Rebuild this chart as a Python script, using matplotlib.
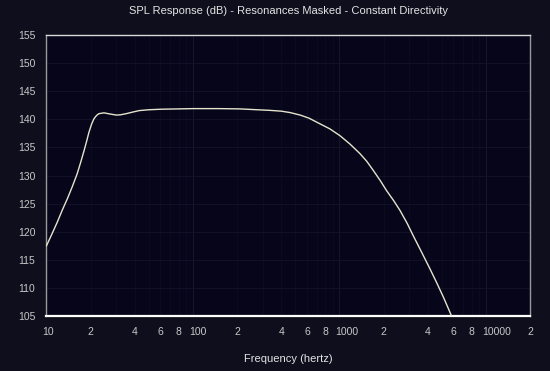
import numpy as np
import matplotlib
matplotlib.use("Agg")
import matplotlib.pyplot as plt
from matplotlib.transforms import ScaledTranslation

# SPL response (Hz vs dB)
freq = [10, 10.9, 11.85, 12.8, 13.9, 15.0, 16.2, 17.1, 18.0, 18.8, 19.5,
        20.3, 21.1, 22.0, 22.8, 24.7, 26.4, 28.5, 30.1, 32, 35, 39, 43, 50,
        62, 80, 100, 150, 210, 250, 330, 400, 460, 540, 620, 736, 860, 1007,
        1180, 1380, 1540, 1703, 1900, 2100, 2350, 2590, 2900, 3190, 3650,
        4150, 4600, 5120, 5830, 6500]
spl = [117.5, 119.6, 121.7, 123.8, 125.9, 128.0, 130.3, 132.3, 134.3, 136.1,
       137.7, 139.1, 140.1, 140.7, 141.0, 141.15, 141.0, 140.85, 140.75,
       140.8, 141.0, 141.3, 141.55, 141.7, 141.8, 141.85, 141.9, 141.9,
       141.85, 141.75, 141.6, 141.45, 141.2, 140.75, 140.2, 139.2, 138.3,
       137.1, 135.6, 133.9, 132.5, 130.9, 129.1, 127.3, 125.5, 123.8, 121.5,
       119.3, 116.3, 113.4, 111.0, 108.4, 105.0, 102.0]

x_ticks = [10, 20, 40, 60, 80, 100, 200, 400, 600, 800, 1000, 2000, 4000,
           6000, 8000, 10000, 20000]
x_labels = ["10", "2", "4", "6", "8", "100", "2", "4", "6", "8", "1000", "2",
            "4", "6", "8", "10000", "2"]
y_ticks = list(range(105, 156, 5))

plt.rcParams['font.family'] = ['Liberation Sans', 'DejaVu Sans']

fig = plt.figure(figsize=(5.5, 3.71), dpi=100, facecolor='#0e0e1d')
ax = fig.add_axes([0.0845, 0.1482, 0.8791, 0.7575])
ax.set_facecolor('#06051a')

ax.set_xscale('log')
ax.set_xlim(10, 20000)
ax.set_ylim(105, 155)

# faint grid
for f in [100, 1000, 10000]:
    ax.axvline(f, color='#15152b', lw=0.8, zorder=0)
for d in [10, 100, 1000, 10000]:
    for m in range(2, 10):
        if d * m < 20000:
            ax.axvline(d * m, color='#0d0c22', lw=0.6, zorder=0)
for yv in y_ticks[1:-1]:
    ax.axhline(yv, color='#111128', lw=0.7, zorder=0)

ax.plot(freq, spl, color='#e6e4cc', lw=1.0, zorder=3)

ax.set_xticks(x_ticks)
ax.set_xticklabels(x_labels)
ax.xaxis.set_minor_locator(matplotlib.ticker.NullLocator())
ax.set_yticks(y_ticks)
ax.tick_params(axis='both', length=0, colors='#c8c8c8', labelsize=7.5)
ax.tick_params(axis='x', pad=8)
ax.tick_params(axis='y', pad=8)
shift = ScaledTranslation(-4 / 100, 0, fig.dpi_scale_trans)
for lbl in ax.get_xticklabels():
    if len(lbl.get_text()) > 1:
        lbl.set_ha('left')
        lbl.set_transform(lbl.get_transform() + shift)

ax.spines['left'].set_color('#9a9a9a')
ax.spines['right'].set_color('#9a9a9a')
ax.spines['top'].set_color('#d8d8d8')
ax.spines['bottom'].set_color('#ffffff')
ax.spines['bottom'].set_linewidth(1.6)
for s in ['left', 'right', 'top']:
    ax.spines[s].set_linewidth(1.0)

ax.set_title('SPL Response (dB) - Resonances Masked - Constant Directivity',
             color='#e4e4e4', fontsize=8, pad=15)
ax.set_xlabel('Frequency (hertz)', color='#e4e4e4', fontsize=8, labelpad=12)

fig.savefig('out.png', dpi=100, facecolor=fig.get_facecolor())
